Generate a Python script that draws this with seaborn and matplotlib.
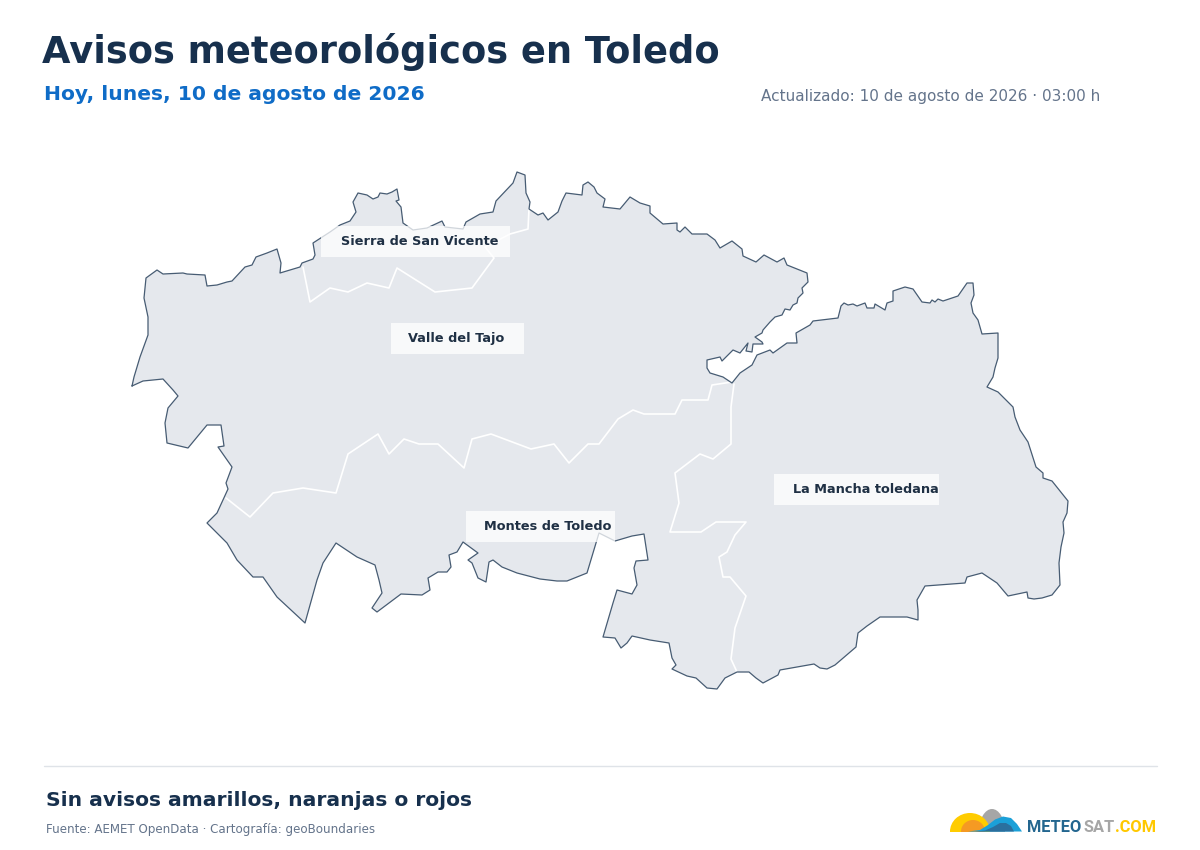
import pandas as pd
import matplotlib.pyplot as plt
import seaborn as sns
from matplotlib.patches import Ellipse, Polygon, Rectangle

# 1. Data: map traced in reference pixels
outline_x = [132, 134, 140, 148, 148, 144, 146, 157, 163, 183, 187, 205, 207, 217, 227, 232, 245, 252, 256, 267, 277,
             281, 280, 300, 302, 313, 315, 313, 330, 340, 350, 356, 353, 358, 367, 373, 378, 380, 387, 392, 397, 399, 396, 401, 403,
             413, 427, 442, 445, 463, 466, 480, 493, 496, 513, 517, 525, 526, 530, 529, 538, 543, 548, 558, 562, 566,
             582, 583, 588, 594, 597, 605, 603, 620, 630, 640, 650, 650, 663, 677, 677, 680, 685, 692, 707, 715, 720,
             732, 742, 743, 756, 764, 777, 784, 787, 807, 808, 802, 803, 798, 797, 793, 790, 785, 782, 775, 770, 763, 762, 755, 762, 763, 753,
             752, 746, 748, 740, 733, 722, 720, 707, 707, 710, 723, 732, 740, 752, 757, 770, 773, 787, 797, 796, 810,
             813, 838, 841, 844, 848, 853, 857, 865, 867, 874, 875, 880, 885, 887, 893, 893, 905, 913, 922, 930, 932, 935, 938, 943, 958, 967, 973, 974,
             971, 973, 978, 982, 998, 998, 995, 993, 987, 998, 1013, 1015, 1020, 1028, 1036, 1043, 1043, 1052, 1068,
             1067, 1063, 1064, 1061, 1059, 1060, 1052, 1042, 1034, 1028, 1027, 1008, 997, 982, 967, 965, 925, 917, 918,
             918, 907, 880, 867, 858, 856, 835, 827, 820, 814, 780, 778, 763, 756, 749, 737, 725, 717, 707, 696, 687,
             672, 676, 672, 669, 650, 632, 627, 621, 615, 603, 608, 613, 617, 632, 637, 634, 636, 648, 644, 632, 615,
             599, 587, 567, 557, 540, 517, 502, 493, 489, 486, 478, 472, 468, 478, 463, 457, 449, 451, 447, 438, 428,
             430, 422, 401, 377, 372, 382, 379, 375, 357, 336, 323, 317, 305, 277, 263, 253, 237, 227, 207, 217, 223,
             228, 226, 232, 218, 224, 221, 207, 188, 167, 165, 168, 178, 173, 163, 143, 132]
outline_y = [386, 377, 357, 335, 317, 298, 278, 270, 274, 273, 274, 275, 286, 285, 282, 281, 267, 265, 257, 253, 249,
             263, 273, 267, 263, 259, 255, 243, 232, 225, 221, 212, 202, 193, 195, 199, 197, 193, 194, 192, 189, 200, 201, 207, 223,
             230, 228, 221, 227, 229, 222, 214, 212, 201, 183, 172, 175, 193, 202, 209, 215, 213, 220, 212, 201, 193,
             195, 185, 182, 187, 193, 199, 207, 209, 197, 203, 206, 213, 224, 223, 230, 232, 227, 234, 234, 240, 248,
             241, 249, 256, 262, 255, 262, 258, 265, 273, 282, 288, 293, 298, 303, 305, 310, 309, 315, 317, 322, 330, 333, 337, 342, 344, 344,
             352, 351, 343, 353, 350, 361, 357, 360, 368, 373, 377, 383, 373, 365, 355, 350, 353, 343, 343, 333, 325,
             321, 318, 306, 303, 305, 304, 306, 303, 308, 308, 304, 307, 310, 303, 301, 291, 287, 289, 302, 303, 300, 302, 299, 301, 296, 283, 283, 295,
             303, 313, 320, 334, 333, 358, 368, 377, 387, 392, 407, 417, 430, 442, 467, 473, 478, 481, 501,
             513, 522, 533, 547, 563, 585, 595, 598, 599, 598, 592, 596, 583, 573, 577, 583, 586, 600, 610,
             620, 617, 617, 626, 633, 647, 665, 669, 668, 664, 670, 675, 683, 678, 672, 672, 678, 689, 688, 678, 676,
             669, 665, 658, 643, 640, 636, 643, 648, 638, 637, 620, 603, 590, 594, 585, 568, 561, 560, 534, 536, 541,
             533, 573, 581, 581, 579, 573, 567, 560, 562, 582, 578, 563, 560, 553, 542, 552, 555, 567, 572, 572, 578,
             590, 595, 594, 612, 608, 593, 580, 565, 557, 543, 563, 580, 623, 597, 577, 577, 560, 543, 523, 513, 500,
             489, 483, 467, 447, 446, 425, 425, 448, 443, 423, 408, 396, 390, 379, 381, 386]

sierra_x = [303, 310, 330, 348, 367, 389, 397, 435, 472, 494, 485, 510, 528, 529]
sierra_y = [267, 302, 288, 292, 283, 288, 268, 292, 288, 258, 247, 234, 229, 209]
tajo_x = [226, 250, 273, 303, 336, 348, 378, 389, 404, 419, 438, 464, 472, 491, 531, 554, 569, 588, 599, 618, 633,
          644, 675, 682, 708, 712, 732]
tajo_y = [498, 517, 493, 488, 493, 454, 434, 454, 439, 444, 444, 468, 439, 434, 449, 444, 463, 444, 444, 419, 410,
          414, 414, 400, 400, 385, 382]
mancha_x = [734, 731, 731, 713, 700, 675, 679, 670, 701, 716, 746, 735, 727, 719, 723, 730, 746, 735, 731, 737]
mancha_y = [384, 407, 444, 459, 454, 473, 503, 532, 532, 522, 522, 535, 552, 557, 577, 577, 596, 628, 659, 672]

zone_names = ['Sierra de San Vicente', 'Valle del Tajo', 'Montes de Toledo', 'La Mancha toledana']
box_left = [321, 391, 466, 774]
box_right = [510, 524, 615, 939]
box_top = [226, 323, 511, 474]
text_left = [341, 408, 484, 793]

TITLE = 'Avisos meteorológicos en Toledo'
SUBTITLE = 'Hoy, lunes, 10 de agosto de 2026'
UPDATED = 'Actualizado: 10 de agosto de 2026 · 03:00 h'
STATUS = 'Sin avisos amarillos, naranjas o rojos'
SOURCE = 'Fuente: AEMET OpenData · Cartografía: geoBoundaries'

# 2. Figure, one axes in pixel units
sns.set_theme(style="white")
plt.rcParams['font.family'] = ['DejaVu Sans']
fig = plt.figure(figsize=(12, 8.5), dpi=100)
ax = fig.add_axes([0, 0, 1, 1])

# 3. Map
ax.fill(outline_x, outline_y, color='#e5e8ed', lw=0, zorder=1)

borders = pd.concat([
    pd.DataFrame({'x': sierra_x, 'y': sierra_y, 'zone': 'sierra'}),
    pd.DataFrame({'x': tajo_x, 'y': tajo_y, 'zone': 'tajo'}),
    pd.DataFrame({'x': mancha_x, 'y': mancha_y, 'zone': 'mancha'}),
])
sns.lineplot(data=borders, x='x', y='y', units='zone', estimator=None, sort=False,
             color='white', linewidth=1.2, ax=ax, zorder=2)
province = pd.DataFrame({'x': outline_x, 'y': outline_y})
sns.lineplot(data=province, x='x', y='y', estimator=None, sort=False,
             color='#475c73', linewidth=0.9, ax=ax, zorder=3)
ax.set_xlim(0, 1200)
ax.set_ylim(850, 0)
ax.axis('off')

# labels
for name, left, right, top, tx in zip(zone_names, box_left, box_right, box_top, text_left):
    ax.add_patch(Rectangle((left, top), right - left, 31, facecolor='white', alpha=0.75, lw=0, zorder=4))
    ax.text(tx, top + 15.5, name, fontsize=9.3, fontweight='bold', color='#1f3044',
            ha='left', va='center', zorder=5)

# 4. Header and footer
ax.text(42, 52, TITLE, fontsize=26.5, fontweight='bold', color='#17304d', ha='left', va='center')
ax.text(44, 94, SUBTITLE, fontsize=14.6, fontweight='bold', color='#0f6cc7', ha='left', va='center')
ax.text(1100, 96, UPDATED, fontsize=11, color='#64748b', ha='right', va='center')
ax.plot([44, 1157], [765.5, 765.5], color='#dfe3e8', lw=1)
ax.text(46, 800, STATUS, fontsize=14.6, fontweight='bold', color='#17304d', ha='left', va='center')
ax.text(46, 830, SOURCE, fontsize=8.6, color='#64748b', ha='left', va='center')

# 5. Logo
clip = Rectangle((940, 800), 90, 31.5, transform=ax.transData)
logo_domes = [((992, 831.5), 26, 45, '#a6a6a6'), ((970, 831.5), 40, 37, '#ffcc00'), ((973, 831.5), 24, 23, '#f59a23')]
for centre, w, h, col in logo_domes:
    el = Ellipse(centre, w, h, facecolor=col, lw=0, zorder=6)
    ax.add_patch(el)
    el.set_clip_path(clip)
wave_light = [(968, 831.5), (980, 830), (988, 825), (995, 819.5), (1003, 816.5), (1011, 818), (1017, 824), (1022, 831.5)]
wave_dark = [(975, 831.5), (985, 830.5), (993, 827), (1000, 823), (1006, 823), (1011, 826), (1014, 831.5)]
ax.add_patch(Polygon(wave_light, facecolor='#1ba0d8', lw=0, zorder=7))
ax.add_patch(Polygon(wave_dark, facecolor='#2a6f9e', lw=0, zorder=8))
for word, left, col in zip(['METEO', 'SAT', '.COM'], [1027, 1084, 1115], ['#23668f', '#a6a6a6', '#ffc800']):
    ax.text(left, 832, word, fontsize=11.8, fontweight='bold', family='Roboto', color=col, ha='left', va='baseline')

fig.savefig('out.png', dpi=100)
